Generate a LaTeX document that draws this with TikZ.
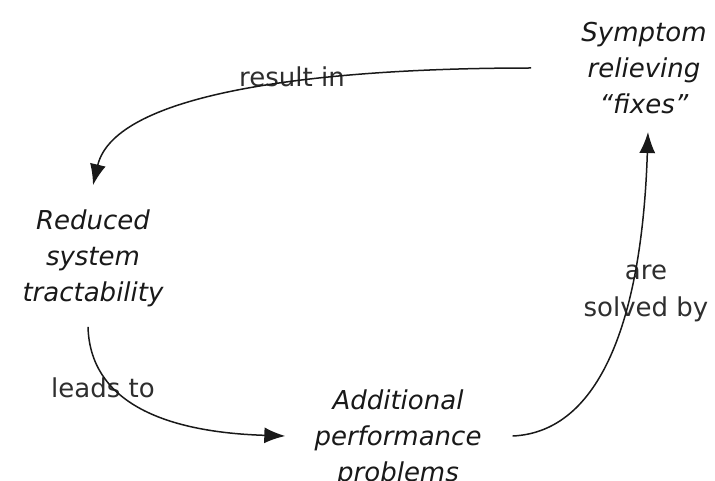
\documentclass[tikz,border=0pt]{standalone}
\usepackage{fontspec}
\setmainfont{DejaVu Sans}
\usetikzlibrary{arrows.meta}
\begin{document}
\begin{tikzpicture}[x=1pt,y=-1pt,
  concept/.style={font=\fontsize{26}{36}\selectfont\itshape, text=black!90, align=center, inner sep=0pt},
  linklabel/.style={font=\fontsize{26}{37}\selectfont, text=black!82, align=center, inner sep=0pt},
  link/.style={draw=black!90, line width=1.5pt, -{Latex[length=21pt,width=16pt]}}]
\useasboundingbox (0,0) rectangle (715,481);

% the three stages of the loop
\node[concept] (fix) at (644,68) {Symptom\\relieving\\\char"201Cfixes\char"201D};
\node[concept] (red) at (93,258) {Reduced\\system\\tractability};
\node[concept] (add) at (398,438) {Additional\\performance\\problems};

% labels on the connectors
\node[linklabel] (lres) at (292,77) {result in};
\node[linklabel] (llead) at (103,388) {leads to};
\node[linklabel] (lsolve) at (646,293) {are\\solved by};

% connectors
\draw[link] ([xshift=-50pt]fix.west) .. controls (320,68) and (115,92) .. ([yshift=24pt]red.north);
\draw[link] ([shift={(-5pt,-20pt)}]red.south) .. controls (90,400) and (160,432) .. ([xshift=-29pt,yshift=2pt]add.west);
\draw[link] ([xshift=31pt,yshift=2pt]add.east) .. controls (600,432) and (642,320) .. ([shift={(4pt,-18pt)}]fix.south);
\end{tikzpicture}
\end{document}
